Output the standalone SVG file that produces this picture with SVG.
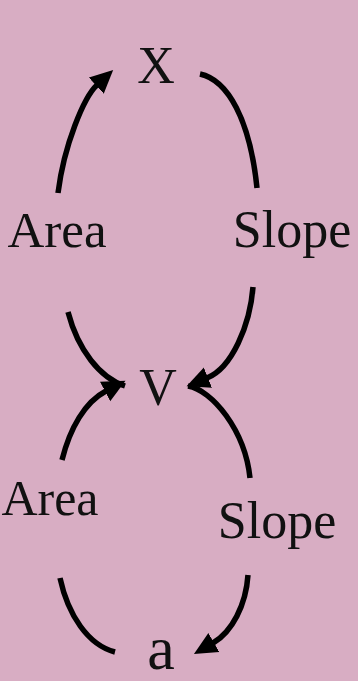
<svg xmlns="http://www.w3.org/2000/svg" width="358" height="681" viewBox="0 0 358 681">
  <style>
    .lbl { font-family: "Liberation Serif", "Times New Roman", serif; fill: #111; text-anchor: middle; }
    .edge { fill: none; stroke: #000; stroke-width: 5.5; stroke-linecap: butt; }
  </style>
  <defs>
    <marker id="head" markerUnits="userSpaceOnUse" viewBox="0 -12 24 24" refX="1" refY="0" markerWidth="24" markerHeight="24" orient="auto">
      <path d="M0,-11 L23,0 L0,11 z" fill="#000"/>
    </marker>
  </defs>
  <rect x="0" y="0" width="358" height="681" fill="#d8adc3"/>

  <g id="connectors">
    <!-- V up to X (area) -->
    <path class="edge" d="M58,193 C64,145 84,97 97,85" marker-end="url(#head)"/>
    <!-- X down to V (slope), upper part -->
    <path class="edge" d="M200,74 C228,80 250,120 257,188"/>
    <!-- area curve into V -->
    <path class="edge" d="M68,312 C78,350 100,378 125,386"/>
    <!-- slope arrow into V -->
    <path class="edge" d="M253,287 C250,325 232,368 207,378" marker-end="url(#head)"/>
    <!-- a up to V (area) -->
    <path class="edge" d="M62,460 C70,428 85,402 106,391" marker-end="url(#head)"/>
    <!-- V down to a (slope), upper part -->
    <path class="edge" d="M188,386 C212,390 245,430 250,478"/>
    <!-- area curve from a -->
    <path class="edge" d="M60,578 C68,615 88,645 115,652"/>
    <!-- slope arrow into a -->
    <path class="edge" d="M248,575 C246,605 232,632 213,643" marker-end="url(#head)"/>
  </g>

  <g id="node-x"><text class="lbl" x="156" y="83" font-size="52">X</text></g>
  <g id="node-v"><text class="lbl" x="158" y="405" font-size="52">V</text></g>
  <g id="node-a"><text class="lbl" x="161" y="669" font-size="62">a</text></g>
  <g id="label-area-upper"><text class="lbl" x="57" y="247" font-size="51">Area</text></g>
  <g id="label-slope-upper"><text class="lbl" x="292" y="247" font-size="52">Slope</text></g>
  <g id="label-area-lower"><text class="lbl" x="50" y="515" font-size="50">Area</text></g>
  <g id="label-slope-lower"><text class="lbl" x="277" y="538" font-size="52">Slope</text></g>
</svg>
